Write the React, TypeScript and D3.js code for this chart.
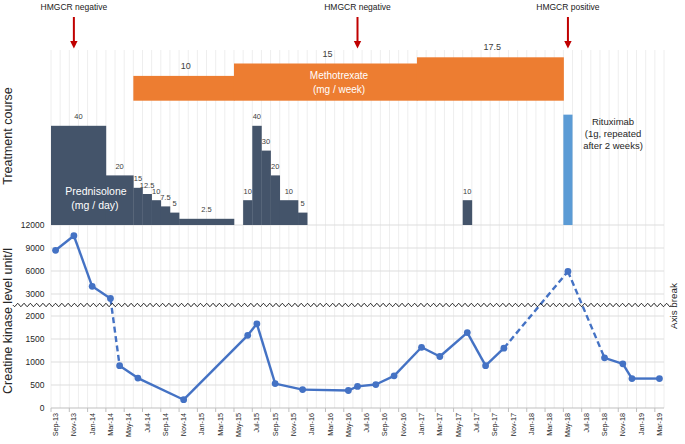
import React from "react";
import * as d3 from "d3";

const W = 685;
const H = 444;

// ---- categories (months) ----
const firstMonth = new Date(2013, 8, 1);
const lastMonth = new Date(2019, 2, 1);
const fmt = d3.timeFormat("%b-%y");
const monthLabels = d3.timeMonth.range(firstMonth, d3.timeMonth.offset(lastMonth, 1)).map(fmt);

const xTickLabels = [
  "Sep-13", "Nov-13", "Jan-14", "Mar-14", "May-14", "Jul-14", "Sep-14", "Nov-14",
  "Jan-15", "Mar-15", "May-15", "Jul-15", "Sep-15", "Nov-15", "Jan-16", "Mar-16",
  "May-16", "Jul-16", "Sep-16", "Nov-16", "Jan-17", "Mar-17", "May-17", "Jul-17",
  "Sep-17", "Nov-17", "Jan-18", "Mar-18", "May-18", "Jul-18", "Sep-18", "Nov-18",
  "Jan-19", "Mar-19",
];

// ---- creatine kinase series ----
const ckMonths = [
  "Sep-13", "Nov-13", "Jan-14", "Mar-14", "Apr-14", "Jun-14", "Nov-14", "Jun-15",
  "Jul-15", "Sep-15", "Dec-15", "May-16", "Jun-16", "Aug-16", "Oct-16", "Jan-17",
  "Mar-17", "Jun-17", "Aug-17", "Oct-17", "May-18", "Sep-18", "Nov-18", "Dec-18", "Mar-19",
];
const ckValues = [
  8700, 10600, 4000, 2800, 920, 650, 180, 1580,
  1830, 530, 400, 380, 470, 510, 700, 1320,
  1120, 1640, 920, 1300, 5950, 1090, 960, 640, 640,
];
const ckDashedFrom = ["Mar-14", "Oct-17", "May-18"];
const ckTicks = [0, 500, 1000, 1500, 2000, 3000, 6000, 9000, 12000];

// ---- prednisolone (mg / day) ----
const prednStart = ["Sep-13", "Mar-14", "Jun-14", "Jul-14", "Aug-14", "Sep-14", "Oct-14", "Nov-14",
  "Jun-15", "Jul-15", "Aug-15", "Sep-15", "Oct-15", "Dec-15", "Jun-17"];
const prednEnd = ["Feb-14", "May-14", "Jun-14", "Jul-14", "Aug-14", "Sep-14", "Oct-14", "Apr-15",
  "Jun-15", "Jul-15", "Aug-15", "Sep-15", "Nov-15", "Dec-15", "Jun-17"];
const prednDose = [40, 20, 15, 12.5, 10, 7.5, 5, 2.5, 10, 40, 30, 20, 10, 5, 10];

// ---- methotrexate (mg / week) ----
const mtxStart = ["Jun-14", "May-15", "Jan-17"];
const mtxEnd = ["Apr-15", "Dec-16", "Apr-18"];
const mtxDose = [10, 15, 17.5];

// ---- rituximab ----
const rituxMonth = "May-18";
const rituxLevel = 44.5;

// ---- HMGCR tests ----
const hmgcrMonths = ["Nov-13", "Jun-16", "May-18"];
const hmgcrLabels = ["HMGCR negative", "HMGCR negative", "HMGCR positive"];

const FONT = "'Liberation Sans', Arial, sans-serif";

export default function App() {
  const x = d3.scaleBand<string>().domain(monthLabels).range([51, 664]).paddingInner(0).paddingOuter(0);
  const bw = x.bandwidth();
  const xc = (m: string) => (x(m) as number) + bw / 2;

  const yCK = d3.scaleLinear().domain([0, 2000, 3000, 12000]).range([408, 316, 294, 225]);
  const dose = d3.scaleLinear().domain([0, 40]).range([0, 99.2]);
  const prednBase = yCK(12000);
  const mtxBase = 100.7;
  const gridTop = 50;
  const breakY = 305;

  const gridXs = d3.range(monthLabels.length + 1).map((i) => 51 + i * bw);

  const pts = ckMonths.map((m, i) => ({ m, x: xc(m), y: yCK(ckValues[i]) }));
  const segs = pts.slice(1).map((p, i) => ({ a: pts[i], b: p, dashed: ckDashedFrom.includes(pts[i].m) }));

  // wavy axis break decoration
  const waveX0 = 13, waveX1 = 671, period = 6.3, amp = 1.5;
  const wavePts: [number, number][] = [];
  for (let xx = waveX0; xx <= waveX1; xx += 0.5) {
    wavePts.push([xx, breakY + amp * Math.sin(((xx - waveX0) / period) * 2 * Math.PI)]);
  }
  const wavePath = d3.line()(wavePts) as string;

  return (
    <div style={{ position: "fixed", left: 0, top: 0, width: W, height: H, background: "#fff" }}>
      <svg width={W} height={H} style={{ display: "block", fontFamily: FONT }}>
        <rect width={W} height={H} fill="#fff" />
        {/* vertical month gridlines */}
        {gridXs.map((gx, i) => (
          <line key={"vg" + i} x1={gx} x2={gx} y1={gridTop} y2={408} stroke="#EEEEEE" strokeWidth={1} />
        ))}
        {/* horizontal gridlines */}
        {ckTicks.map((t) => (
          <line key={"hg" + t} x1={51} x2={664} y1={yCK(t)} y2={yCK(t)}
            stroke={t === 0 ? "#BFBFBF" : "#DDDDDD"} strokeWidth={1} />
        ))}
        {/* x ticks */}
        {gridXs.filter((_, i) => i % 2 === 0).map((gx, i) => (
          <line key={"xt" + i} x1={gx} x2={gx} y1={408} y2={412} stroke="#BFBFBF" strokeWidth={1} />
        ))}
        {/* x tick labels */}
        {xTickLabels.map((l) => (
          <text key={"xl" + l} transform={`translate(${xc(l) + 2.5},${413}) rotate(-90)`}
            textAnchor="end" fontSize={7.2} fill="#262626">{l}</text>
        ))}
        {/* y tick labels */}
        {ckTicks.map((t) => (
          <text key={"yl" + t} x={44.5} y={yCK(t)} dy="0.35em" textAnchor="end" fontSize={8.5} fill="#262626">{t}</text>
        ))}

        {/* Methotrexate */}
        {mtxDose.map((d, i) => {
          const x0 = x(mtxStart[i]) as number;
          const x1 = (x(mtxEnd[i]) as number) + bw;
          return (
            <g key={"mtx" + i}>
              <rect x={x0} y={mtxBase - dose(d)} width={x1 - x0 + 0.5} height={dose(d)} fill="#ED7D31" />
              <text x={(x0 + x1) / 2 + 2} y={mtxBase - dose(d) - 7} textAnchor="middle" fontSize={9} fill="#404040">{d}</text>
            </g>
          );
        })}
        <text x={339} y={79} textAnchor="middle" fontSize={10} fill="#fff">Methotrexate</text>
        <text x={339} y={93} textAnchor="middle" fontSize={10} fill="#fff">(mg / week)</text>

        {/* Prednisolone */}
        {prednDose.map((d, i) => {
          const x0 = x(prednStart[i]) as number;
          const x1 = (x(prednEnd[i]) as number) + bw;
          return (
            <g key={"pr" + i}>
              <rect x={x0} y={prednBase - dose(d)} width={x1 - x0 + 0.3} height={dose(d)} fill="#44546A" />
              <text x={(x0 + x1) / 2} y={prednBase - dose(d) - 6.5} textAnchor="middle" fontSize={7.5} fill="#404040">{d}</text>
            </g>
          );
        })}
        <text x={96} y={195} textAnchor="middle" fontSize={10.5} fill="#fff">Prednisolone</text>
        <text x={95} y={209} textAnchor="middle" fontSize={10.5} fill="#fff">(mg / day)</text>

        {/* Rituximab */}
        <rect x={x(rituxMonth) as number} y={prednBase - dose(rituxLevel)} width={bw} height={dose(rituxLevel)} fill="#5B9BD5" />
        <text x={613} y={125} textAnchor="middle" fontSize={9.5} fill="#262626">Rituximab</text>
        <text x={613} y={137} textAnchor="middle" fontSize={9.5} fill="#262626">(1g, repeated</text>
        <text x={613} y={149} textAnchor="middle" fontSize={9.5} fill="#262626">after 2 weeks)</text>

        {/* HMGCR arrows */}
        {hmgcrMonths.map((m, i) => {
          const ax = xc(m);
          return (
            <g key={"hm" + i}>
              <text x={ax} y={10} textAnchor="middle" fontSize={8.5} fill="#1a1a1a">{hmgcrLabels[i]}</text>
              <line x1={ax} x2={ax} y1={17} y2={42} stroke="#C00000" strokeWidth={2} />
              <path d={`M${ax - 3.7},41 L${ax + 3.7},41 L${ax},48.5 Z`} fill="#C00000" />
            </g>
          );
        })}

        {/* CK line */}
        {segs.map((s, i) => (
          <line key={"sg" + i} x1={s.a.x} y1={s.a.y} x2={s.b.x} y2={s.b.y}
            stroke="#4472C4" strokeWidth={2.4} strokeDasharray={s.dashed ? "6,3.5" : undefined} />
        ))}
        {pts.map((p, i) => (
          <circle key={"pt" + i} cx={p.x} cy={p.y} r={3.4} fill="#4472C4" />
        ))}

        {/* axis break */}
        <path d={wavePath} fill="none" stroke="#000" strokeWidth={0.9} />
        <text transform={`translate(677,${306}) rotate(-90)`} textAnchor="middle" fontSize={9.8} fill="#262626">Axis break</text>

        {/* axis titles */}
        <text transform={`translate(11.5,${321}) rotate(-90)`} textAnchor="middle" fontSize={12.5} fill="#262626">Creatine kinase level unit/l</text>
        <text transform={`translate(11.5,${136}) rotate(-90)`} textAnchor="middle" fontSize={12.5} fill="#262626">Treatment course</text>
      </svg>
    </div>
  );
}
